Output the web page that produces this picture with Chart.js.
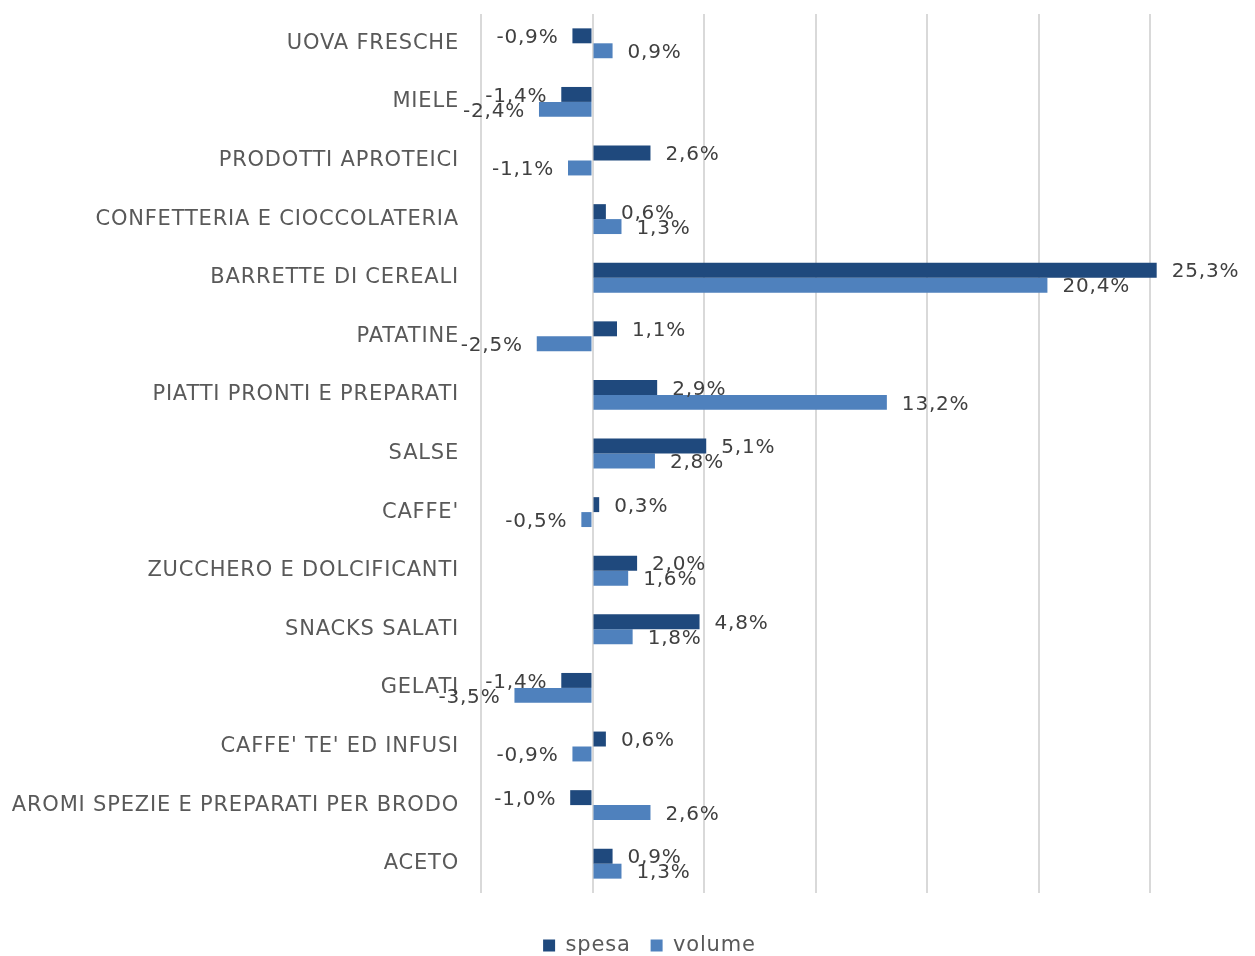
<!DOCTYPE html>
<html>
<head>
<meta charset="utf-8">
<script src="https://cdn.jsdelivr.net/npm/chart.js@4"></script>
<style>
  body { margin: 0; background: #fff; }
</style>
</head>
<body>
<canvas id="myChart" width="1255" height="956"></canvas>
<script>
// data block
const categories = [
  "UOVA FRESCHE", "MIELE", "PRODOTTI APROTEICI", "CONFETTERIA E CIOCCOLATERIA",
  "BARRETTE DI CEREALI", "PATATINE", "PIATTI PRONTI E PREPARATI", "SALSE",
  "CAFFE'", "ZUCCHERO E DOLCIFICANTI", "SNACKS SALATI", "GELATI",
  "CAFFE' TE' ED INFUSI", "AROMI SPEZIE E PREPARATI PER BRODO", "ACETO"
];
const spesa = [-0.9, -1.4, 2.6, 0.6, 25.3, 1.1, 2.9, 5.1, 0.3, 2.0, 4.8, -1.4, 0.6, -1.0, 0.9];
const volume = [0.9, -2.4, -1.1, 1.3, 20.4, -2.5, 13.2, 2.8, -0.5, 1.6, 1.8, -3.5, -0.9, 2.6, 1.3];

const FONT = "'DejaVu Sans', sans-serif";

// plugin - wider letters, closer to the original font; legend moved right
const spacing = {
  id: "spacing",
  afterLayout: (chart) => {
    chart.legend.left += 70;
    chart.legend.right += 70;
  },
  beforeDraw: (chart) => {
    chart.ctx.letterSpacing = "0.8px";
  },
};

// plugin - value labels at the end of each bar
const valueLabels = {
  id: "valueLabels",
  afterDatasetsDraw: (chart) => {
    const { ctx, data } = chart;
    ctx.save();
    ctx.font = "20px " + FONT;
    ctx.letterSpacing = "0.8px";
    ctx.fillStyle = "#404040";
    ctx.textBaseline = "middle";
    data.datasets.forEach((dataset, i) => {
      chart.getDatasetMeta(i).data.forEach((bar, j) => {
        const v = dataset.data[j];
        const txt = v.toFixed(1).replace(".", ",") + "%";
        if (v >= 0) {
          ctx.textAlign = "left";
          ctx.fillText(txt, bar.x + 15, bar.y + 2);
        } else {
          ctx.textAlign = "right";
          ctx.fillText(txt, bar.x - 14, bar.y + 2);
        }
      });
    });
    ctx.restore();
  },
};

// config block
const config = {
  type: "bar",
  data: {
    labels: categories,
    datasets: [
      { label: "spesa", data: spesa, backgroundColor: "#1F497D", clip: false },
      { label: "volume", data: volume, backgroundColor: "#4F81BD", clip: false },
    ],
  },
  options: {
    indexAxis: "y",
    responsive: false,
    animation: false,
    categoryPercentage: 0.51,
    barPercentage: 1,
    layout: { padding: { top: 14, right: 105, bottom: -10, left: 0 } },
    scales: {
      x: {
        min: -5,
        max: 25,
        afterFit: (scale) => { scale.height = 22; },
        ticks: { display: false, stepSize: 5 },
        border: { display: false },
        grid: { color: "#D9D9D9", lineWidth: 2, drawTicks: false },
      },
      y: {
        afterFit: (scale) => {
          scale.width = 481;
          scale.paddingTop = 0;
          scale.paddingBottom = 0;
        },
        ticks: { color: "#595959", font: { family: FONT, size: 21 }, padding: 22 },
        border: { display: false },
        grid: { display: false, drawTicks: false },
      },
    },
    plugins: {
      legend: {
        position: "bottom",
        labels: {
          color: "#595959",
          font: { family: FONT, size: 21 },
          boxWidth: 12,
          boxHeight: 12,
          padding: 20,
        },
      },
      tooltip: { enabled: false },
    },
  },
  plugins: [spacing, valueLabels],
};

// render init block
const myChart = new Chart(document.getElementById("myChart"), config);
</script>
</body>
</html>
